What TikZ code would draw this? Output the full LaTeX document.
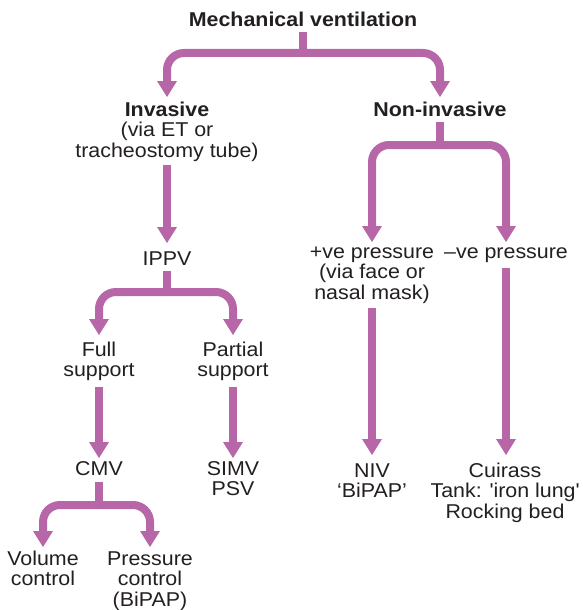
\documentclass[tikz,border=0pt]{standalone}
\usepackage{fontspec}
\setmainfont[FakeStretch=1.07]{Liberation Sans}
\usetikzlibrary{arrows.meta}
\definecolor{vent}{RGB}{183,102,168}
\definecolor{txt}{RGB}{35,31,32}
\newcommand{\mlines}[1]{\begin{tabular}[t]{@{}c@{}}#1\end{tabular}}
\begin{document}
\begin{tikzpicture}[x=1pt,y=-1pt,
  lbl/.style={font=\fontsize{20}{20.8}\selectfont, text=txt, inner sep=0pt, anchor=base},
  hd/.style={lbl, font=\fontsize{20}{20.8}\selectfont\bfseries},
  stem/.style={draw=vent, line width=8pt},
  fork/.style={draw=vent, line width=8pt, rounded corners=17pt,
    -{Triangle[width=20pt,length=16pt,line width=0pt]}}]
\useasboundingbox (0,0) rectangle (582,610);
% nodes
\node[hd]  (mv)   at (303,27)  {Mechanical ventilation};
\node[lbl] (inv)  at (167,116) {\mlines{\textbf{Invasive}\\(via ET or\\tracheostomy tube)}};
\node[hd]  (non)  at (440,116) {Non-invasive};
\node[lbl] (ippv) at (167,265) {IPPV};
\node[lbl] (full) at (99,356)  {\mlines{Full\\support}};
\node[lbl] (part) at (233,356) {\mlines{Partial\\support}};
\node[lbl] (cmv)  at (99,475)  {CMV};
\node[lbl] (simv) at (233,475) {\mlines{SIMV\\PSV}};
\node[lbl] (vol)  at (43,565)  {\mlines{Volume\\control}};
\node[lbl] (pres) at (150,565) {\mlines{Pressure\\control\\(BiPAP)}};
\node[lbl] (pos)  at (372,258) {\mlines{+ve pressure\\(via face or\\nasal mask)}};
\node[lbl] (neg)  at (506,258) {–ve pressure};
\node[lbl] (niv)  at (372,477) {\mlines{NIV\\‘BiPAP’}};
\node[lbl] (cui)  at (505,477) {\mlines{Cuirass\\Tank: \textquotesingle iron lung\textquotesingle\\Rocking bed}};
% junctions
\coordinate (j1) at (303,53);
\coordinate (j2) at (167,292);
\coordinate (j3) at (100,505);
\coordinate (j4) at (440,145);
% connectors
\draw[stem] (mv |- 0,32) -- (mv |- 0,57);
\draw[fork] (j1) -| (inv |- 0,97);
\draw[fork] (j1) -| (non |- 0,97);
\draw[fork] (inv |- 0,165) -- (ippv |- 0,243);
\draw[stem] (ippv |- 0,271) -- (ippv |- 0,296);
\draw[fork] (j2) -| (full |- 0,335);
\draw[fork] (j2) -| (part |- 0,335);
\draw[fork] (full |- 0,387) -- (cmv |- 0,458);
\draw[fork] (part |- 0,387) -- (simv |- 0,458);
\draw[stem] (cmv |- 0,482) -- (cmv |- 0,509);
\draw[fork] (j3) -| (vol |- 0,547);
\draw[fork] (j3) -| (pres |- 0,547);
\draw[stem] (non |- 0,122) -- (non |- 0,149);
\draw[fork] (j4) -| (pos |- 0,242);
\draw[fork] (j4) -| (neg |- 0,242);
\draw[fork] (pos |- 0,308) -- (niv |- 0,455);
\draw[fork] (neg |- 0,268) -- (neg |- 0,455);
\end{tikzpicture}
\end{document}
